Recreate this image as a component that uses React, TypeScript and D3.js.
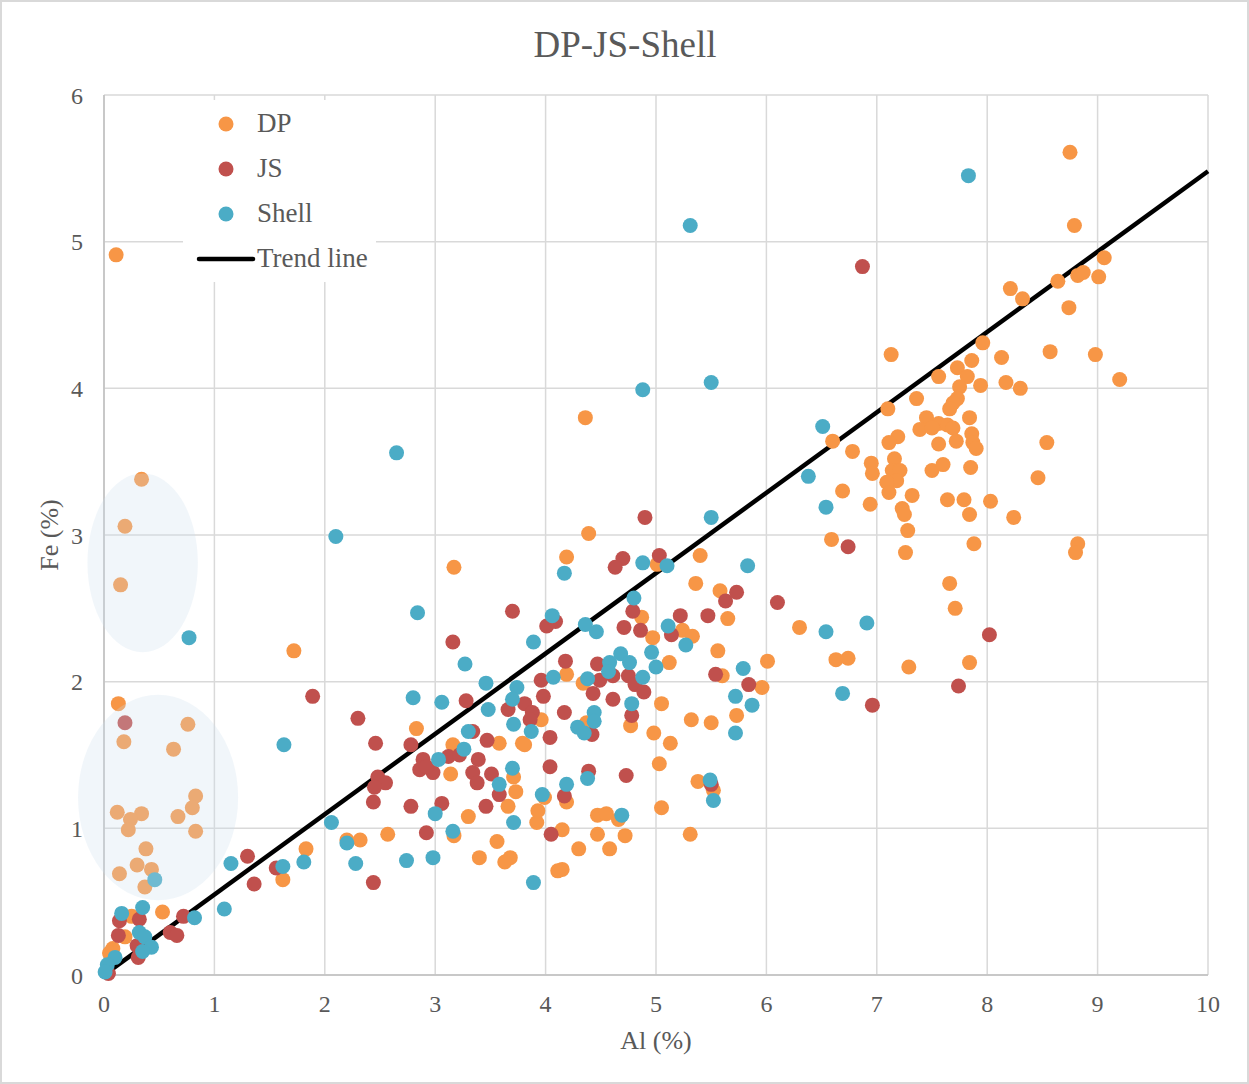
import React, { useEffect } from "react";
import * as d3 from "d3";

// Al (%) vs Fe (%) for three sample groups
const dpAl = [
  8.75, 8.79, 9.06, 8.82, 8.87, 9.01, 8.64, 8.21, 8.32, 8.74, 7.96, 7.13, 8.57, 8.98, 8.13, 7.86, 7.73, 7.56, 7.82, 9.2,
  7.75, 7.94, 8.17, 8.3, 7.36, 7.73, 7.69, 7.66, 7.1, 7.84, 7.45, 7.56, 7.64, 7.69, 7.39, 7.5, 7.86, 7.19, 7.11, 7.56,
  7.72, 7.87, 7.9, 8.54, 6.6, 6.78, 6.95, 6.96, 7.16, 7.14, 7.21, 7.18, 7.09, 7.5, 7.6, 7.85, 8.46, 7.11, 6.69, 7.32,
  7.64, 7.79, 8.03, 6.94, 7.23, 7.25, 7.84, 8.24, 7.28, 6.59, 7.88, 8.82, 8.8, 7.26, 5.4, 7.66, 7.71, 6.3, 6.63, 6.74,
  7.29, 7.84, 6.01, 5.36, 5.58, 5.65, 5.24, 5.33, 5.56, 5.6, 5.96, 5.73, 5.32, 5.5, 5.05, 4.98, 5.13, 5.03, 5.38, 5.52,
  5.05, 5.31, 4.39, 3.17, 4.19, 5.01, 4.87, 4.97, 4.19, 4.34, 5.12, 4.77, 3.96, 2.83, 3.16, 3.58, 3.79, 3.81, 3.14, 3.71,
  3.73, 4.19, 4.47, 4.55, 4.66, 4.47, 4.72, 4.58, 4.3, 4.15, 3.92, 3.93, 3.66, 3.3, 3.17, 3.56, 3.4, 3.68, 3.63, 4.15,
  4.11, 2.57, 2.32, 2.2, 1.83, 1.72, 1.62, 4.36, 0.11, 3.99, 4.37, 0.53, 0.25, 0.08, 0.05, 0.19, 0.34, 0.19, 0.15, 0.13,
  0.18, 0.76, 0.63, 0.83, 0.8, 0.67, 0.83, 0.12, 0.34, 0.24, 0.22, 0.38, 0.3, 0.43, 0.14, 0.37,
];
const dpFe = [
  5.61, 5.11, 4.89, 4.77, 4.79, 4.76, 4.73, 4.68, 4.61, 4.55, 4.31, 4.23, 4.25, 4.23, 4.21, 4.19, 4.14, 4.08, 4.08, 4.06,
  4.01, 4.02, 4.04, 4.0, 3.93, 3.93, 3.9, 3.86, 3.86, 3.8, 3.8, 3.76, 3.75, 3.73, 3.72, 3.73, 3.69, 3.67, 3.63, 3.62,
  3.64, 3.63, 3.59, 3.63, 3.64, 3.57, 3.49, 3.42, 3.52, 3.44, 3.44, 3.37, 3.36, 3.44, 3.48, 3.46, 3.39, 3.29, 3.3, 3.27,
  3.24, 3.24, 3.23, 3.21, 3.18, 3.14, 3.14, 3.12, 3.03, 2.97, 2.94, 2.94, 2.88, 2.88, 2.86, 2.67, 2.5, 2.37, 2.15, 2.16,
  2.1, 2.13, 2.14, 2.67, 2.62, 2.43, 2.35, 2.31, 2.21, 2.04, 1.96, 1.77, 1.74, 1.72, 1.85, 1.65, 1.58, 1.44, 1.32, 1.26,
  1.14, 0.96, 3.01, 2.78, 2.85, 2.8, 2.44, 2.3, 2.05, 1.99, 2.13, 1.7, 1.74, 1.68, 1.57, 1.58, 1.58, 1.57, 1.37, 1.35,
  1.25, 1.18, 1.09, 1.1, 1.06, 0.96, 0.95, 0.86, 0.86, 0.99, 1.04, 1.12, 1.15, 1.08, 0.95, 0.91, 0.8, 0.8, 0.77, 0.72,
  0.71, 0.96, 0.92, 0.92, 0.86, 2.21, 0.65, 3.8, 4.91, 1.21, 1.72, 0.43, 0.4, 0.18, 0.15, 0.26, 3.38, 3.06, 2.66, 1.85,
  1.59, 1.71, 1.54, 1.22, 1.14, 1.08, 0.98, 1.11, 1.1, 1.06, 0.99, 0.86, 0.75, 0.72, 0.69, 0.6,
];

const jsAl = [
  6.87, 6.74, 6.1, 8.02, 6.96, 7.74, 5.63, 5.73, 5.47, 5.22, 5.14, 5.54, 5.84, 5.5, 4.9, 4.7, 4.63, 5.03, 3.7, 4.01,
  4.09, 4.79, 4.86, 4.71, 3.16, 4.18, 3.96, 3.98, 4.47, 4.49, 4.61, 4.75, 4.43, 4.81, 4.89, 4.61, 4.78, 1.89, 2.3, 3.28,
  3.66, 3.81, 3.88, 3.86, 4.17, 4.04, 4.42, 2.46, 2.78, 3.34, 3.47, 3.12, 3.22, 2.89, 2.86, 2.98, 2.92, 3.39, 3.34, 3.38,
  3.51, 2.48, 2.55, 2.45, 2.44, 2.78, 3.06, 3.46, 3.58, 4.04, 4.17, 4.39, 4.73, 4.05, 2.92, 2.44, 1.3, 1.56, 1.36, 0.72,
  0.6, 0.66, 0.14, 0.32, 0.13, 0.3, 0.31, 0.04, 0.19,
];
const jsFe = [
  4.83, 2.92, 2.54, 2.32, 1.84, 1.97, 2.55, 2.61, 2.45, 2.45, 2.32, 2.05, 1.98, 1.3, 3.12, 2.84, 2.78, 2.86, 2.48, 2.38,
  2.41, 2.48, 2.35, 2.37, 2.27, 2.14, 2.01, 1.9, 2.12, 2.01, 2.04, 2.04, 1.92, 1.98, 1.93, 1.88, 1.77, 1.9, 1.75, 1.87,
  1.81, 1.85, 1.79, 1.74, 1.79, 1.62, 1.64, 1.58, 1.57, 1.66, 1.6, 1.49, 1.5, 1.47, 1.4, 1.38, 1.42, 1.47, 1.38, 1.31,
  1.37, 1.35, 1.31, 1.28, 1.18, 1.15, 1.17, 1.15, 1.23, 1.42, 1.22, 1.39, 1.36, 0.96, 0.97, 0.63, 0.81, 0.73, 0.62, 0.4,
  0.29, 0.27, 0.37, 0.38, 0.27, 0.2, 0.12, 0.01, 1.72,
];

const shellAl = [
  7.83, 5.31, 4.88, 5.5, 2.65, 6.51, 6.38, 6.54, 5.5, 5.83, 6.54, 6.91, 6.69, 0.77, 2.1, 5.11, 5.27, 5.79, 5.72, 5.87,
  5.72, 5.49, 5.52, 4.17, 4.88, 5.1, 2.84, 4.06, 4.8, 4.36, 4.46, 3.89, 3.27, 4.07, 3.46, 3.74, 3.7, 4.68, 4.76, 4.58,
  4.57, 4.38, 4.88, 4.96, 5.0, 4.78, 2.8, 3.06, 3.48, 3.71, 3.87, 4.29, 4.35, 4.44, 4.44, 3.3, 3.26, 3.03, 3.58, 3.7,
  3.97, 4.19, 4.38, 4.69, 3.71, 3.0, 3.16, 3.89, 2.98, 2.74, 2.28, 2.2, 2.06, 1.81, 1.63, 1.62, 1.15, 1.09, 0.82, 0.35,
  0.16, 0.32, 0.37, 0.43, 0.35, 0.1, 0.03, 0.01, 0.46,
];
const shellFe = [
  5.45, 5.11, 3.99, 4.04, 3.56, 3.74, 3.4, 3.19, 3.12, 2.79, 2.34, 2.4, 1.92, 2.3, 2.99, 2.38, 2.25, 2.09, 1.9, 1.84,
  1.65, 1.33, 1.19, 2.74, 2.81, 2.79, 2.47, 2.45, 2.57, 2.39, 2.34, 2.27, 2.12, 2.03, 1.99, 1.96, 1.88, 2.19, 2.13, 2.13,
  2.07, 2.02, 2.03, 2.2, 2.1, 1.85, 1.89, 1.86, 1.81, 1.71, 1.66, 1.69, 1.65, 1.79, 1.73, 1.66, 1.54, 1.47, 1.3, 1.41,
  1.23, 1.3, 1.34, 1.09, 1.04, 1.1, 0.98, 0.63, 0.8, 0.78, 0.76, 0.9, 1.04, 0.77, 1.57, 0.74, 0.76, 0.45, 0.39, 0.46,
  0.42, 0.29, 0.26, 0.19, 0.16, 0.12, 0.07, 0.02, 0.65,
];

// fitted line Fe = 0.548 * Al
const trendAl = [0.07, 10];
const trendSlope = 0.548;

// highlighted low-Al groups: [centre Al, centre Fe, half-width Al, half-height Fe]
const highlightAreas = [
  [0.35, 2.81, 0.5, 0.61],
  [0.49, 1.21, 0.725, 0.7],
];

const xTicks = [0, 1, 2, 3, 4, 5, 6, 7, 8, 9, 10];
const yTicks = [0, 1, 2, 3, 4, 5, 6];

const series = [
  { name: "DP", color: "#F79646", al: dpAl, fe: dpFe },
  { name: "JS", color: "#C0504D", al: jsAl, fe: jsFe },
  { name: "Shell", color: "#4BACC6", al: shellAl, fe: shellFe },
];

const W = 1249;
const H = 1084;
const FONT = "'Liberation Serif', 'Times New Roman', serif";
const TEXT = "#595959";

export default function App() {
  useEffect(() => {
    document.body.style.margin = "0";
  }, []);

  const x = d3.scaleLinear().domain([0, 10]).range([104, 1208]);
  const y = d3.scaleLinear().domain([0, 6]).range([975, 95]);
  const line = d3
    .line<number>()
    .x((d) => x(d))
    .y((d) => y(d * trendSlope));

  const r = 7.5;

  return (
    <svg width={W} height={H} style={{ display: "block", position: "absolute", left: 0, top: 0 }}>
      <rect x={0} y={0} width={W} height={H} fill="#fff" />
      <rect x={1} y={1} width={W - 2} height={H - 2} fill="none" stroke="#d9d9d9" strokeWidth={2} />

      <text x={625} y={57} textAnchor="middle" fontFamily={FONT} fontSize={37} fill={TEXT}>
        DP-JS-Shell
      </text>

      {/* grid */}
      {xTicks.map((t) => (
        <line key={"gx" + t} x1={x(t)} x2={x(t)} y1={y(6)} y2={y(0)} stroke="#d9d9d9" strokeWidth={1.5} />
      ))}
      {yTicks.map((t) => (
        <line key={"gy" + t} x1={x(0)} x2={x(10)} y1={y(t)} y2={y(t)} stroke="#d9d9d9" strokeWidth={1.5} />
      ))}
      <line x1={x(0)} x2={x(0)} y1={y(6)} y2={y(0)} stroke="#bfbfbf" strokeWidth={1.5} />
      <line x1={x(0)} x2={x(10)} y1={y(0)} y2={y(0)} stroke="#bfbfbf" strokeWidth={1.5} />

      {/* tick labels */}
      {xTicks.map((t) => (
        <text key={"tx" + t} x={x(t)} y={1012} textAnchor="middle" fontFamily={FONT} fontSize={24} fill={TEXT}>
          {t}
        </text>
      ))}
      {yTicks.map((t) => (
        <text key={"ty" + t} x={83} y={y(t) + 8.5} textAnchor="end" fontFamily={FONT} fontSize={24} fill={TEXT}>
          {t}
        </text>
      ))}

      <text x={656} y={1049} textAnchor="middle" fontFamily={FONT} fontSize={26} fill={TEXT}>
        Al (%)
      </text>
      <text
        transform={`translate(58, ${535}) rotate(-90)`}
        textAnchor="middle"
        fontFamily={FONT}
        fontSize={26}
        fill={TEXT}
      >
        Fe (%)
      </text>

      {/* trend line */}
      <path d={line(trendAl) || ""} stroke="#000" strokeWidth={4.5} fill="none" />

      {/* points */}
      {series.map((s) => (
        <g key={s.name}>
          {s.al.map((a, i) => (
            <circle key={i} cx={x(a)} cy={y(s.fe[i])} r={r} fill={s.color} />
          ))}
        </g>
      ))}

      {/* highlighted areas */}
      {highlightAreas.map(([cx, cy, rx, ry], i) => (
        <ellipse
          key={"e" + i}
          cx={x(cx)}
          cy={y(cy)}
          rx={x(rx) - x(0)}
          ry={y(0) - y(ry)}
          fill="rgb(205,224,237)"
          fillOpacity={0.28}
        />
      ))}

      {/* legend */}
      <rect x={183} y={100} width={193} height={182} fill="#fff" />
      {series.map((s, i) => (
        <g key={"lg" + s.name}>
          <circle cx={226} cy={124 + i * 45} r={r} fill={s.color} />
          <text x={257} y={132 + i * 45} fontFamily={FONT} fontSize={27} fill={TEXT}>
            {s.name}
          </text>
        </g>
      ))}
      <line x1={199} x2={253} y1={259} y2={259} stroke="#000" strokeWidth={4.5} strokeLinecap="round" />
      <text x={257} y={267} fontFamily={FONT} fontSize={27} fill={TEXT}>
        Trend line
      </text>
    </svg>
  );
}
